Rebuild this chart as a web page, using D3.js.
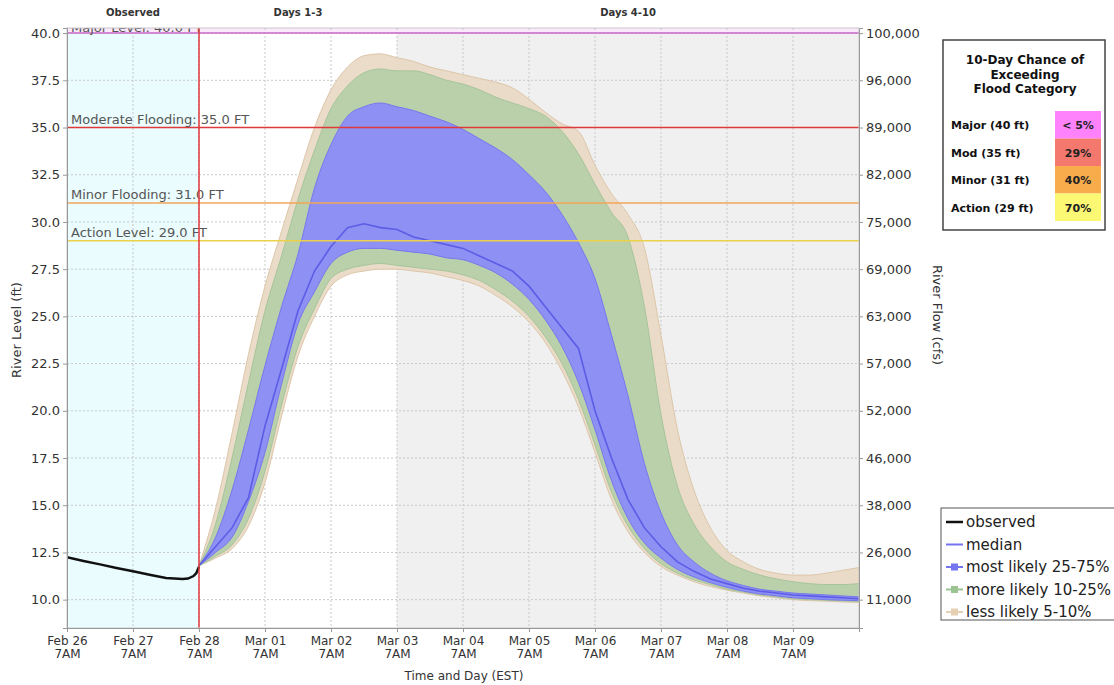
<!DOCTYPE html>
<html>
<head>
<meta charset="utf-8">
<script src="https://cdn.jsdelivr.net/npm/d3@7"></script>
<style>
  body { margin: 0; background: #fff; }
  text { font-family: "DejaVu Sans", sans-serif; }
</style>
</head>
<body>
<div class="container"></div>
<script>
// hours after Feb 26 7AM
let obsHours = [0, 6, 12, 18, 24, 30, 36, 42, 44, 46, 47, 48];
let obsLevel = [12.25, 12.05, 11.87, 11.68, 11.5, 11.32, 11.15, 11.1, 11.12, 11.25, 11.4, 11.75];

// hours after Feb 28 7AM, 6 hour steps
let fcHours = [0, 6, 12, 18, 24, 30, 36, 42, 48, 54, 60, 66, 72, 78, 84, 90, 96, 102, 108, 114, 120,
  126, 132, 138, 144, 150, 156, 162, 168, 174, 180, 186, 192, 198, 204, 210, 216, 222, 228, 234, 240];

let median = [11.8, 12.8, 13.8, 15.4, 19.2, 22.2, 25.3, 27.4, 28.7, 29.7, 29.9, 29.7, 29.6, 29.2, 29.0, 28.8, 28.6, 28.2, 27.8, 27.4, 26.6,
  25.5, 24.4, 23.3, 20.0, 17.5, 15.3, 13.8, 12.8, 12.0, 11.5, 11.1, 10.85, 10.6, 10.45, 10.35, 10.25, 10.2, 10.15, 10.1, 10.05];
let p25 = [11.8, 13.3, 15.8, 19.0, 22.4, 25.5, 28.3, 31.8, 34.1, 35.6, 36.1, 36.3, 36.1, 35.9, 35.6, 35.3, 34.9, 34.4, 33.9, 33.3, 32.5,
  31.6, 30.4, 28.9, 27.0, 24.0, 20.8, 17.2, 14.6, 12.9, 12.0, 11.4, 11.0, 10.75, 10.55, 10.45, 10.35, 10.3, 10.25, 10.2, 10.15];
let p75 = [11.8, 12.5, 13.3, 15.2, 17.8, 21.4, 24.6, 26.3, 27.8, 28.4, 28.6, 28.6, 28.5, 28.4, 28.3, 28.1, 28.0, 27.7, 27.3, 26.7, 25.9,
  24.8, 23.4, 21.5, 19.0, 16.3, 14.3, 13.0, 12.2, 11.6, 11.2, 10.9, 10.65, 10.45, 10.3, 10.2, 10.1, 10.05, 10.0, 9.97, 9.95];
let p10 = [11.8, 14.0, 17.5, 21.5, 25.3, 28.2, 31.2, 33.8, 36.0, 37.2, 37.9, 38.1, 38.0, 38.0, 37.8, 37.5, 37.3, 37.0, 36.6, 36.3, 36.0,
  35.6, 34.8, 33.6, 32.0, 30.5, 29.2, 25.5, 19.8, 16.0, 14.0, 12.8, 12.0, 11.6, 11.3, 11.1, 10.95, 10.85, 10.8, 10.8, 10.85];
let p90 = [11.8, 12.3, 12.9, 14.3, 16.8, 20.3, 23.4, 25.4, 27.0, 27.5, 27.7, 27.8, 27.7, 27.6, 27.5, 27.4, 27.2, 26.9, 26.4, 25.8, 25.0,
  23.9, 22.5, 20.6, 18.2, 15.7, 13.9, 12.7, 11.9, 11.4, 11.05, 10.8, 10.55, 10.4, 10.25, 10.15, 10.05, 10.0, 9.97, 9.93, 9.9];
let p05 = [11.8, 14.8, 18.8, 23.0, 26.6, 29.5, 32.3, 35.0, 37.0, 38.2, 38.8, 38.9, 38.7, 38.5, 38.2, 38.0, 37.8, 37.6, 37.4, 37.1, 36.5,
  35.8, 35.2, 34.8, 33.0, 31.5, 30.4, 28.6, 24.0, 19.0, 15.8, 13.8, 12.6, 12.0, 11.6, 11.4, 11.3, 11.3, 11.4, 11.55, 11.7];
let p95 = [11.8, 12.2, 12.7, 13.9, 16.2, 19.7, 22.9, 25.0, 26.6, 27.2, 27.4, 27.5, 27.5, 27.4, 27.3, 27.1, 26.9, 26.6, 26.1, 25.5, 24.7,
  23.6, 22.1, 20.2, 17.8, 15.3, 13.6, 12.5, 11.75, 11.3, 10.95, 10.7, 10.5, 10.35, 10.2, 10.1, 10.0, 9.95, 9.92, 9.88, 9.85];

let levelTicks = [10, 12.5, 15, 17.5, 20, 22.5, 25, 27.5, 30, 32.5, 35, 37.5, 40];
let flowTicks = ["11,000", "26,000", "38,000", "46,000", "52,000", "57,000", "63,000", "69,000", "75,000", "82,000", "89,000", "96,000", "100,000"];

let floodNames = ["Major Level: 40.0 FT", "Moderate Flooding: 35.0 FT", "Minor Flooding: 31.0 FT", "Action Level: 29.0 FT"];
let floodLevels = [40, 35, 31, 29];
let floodColors = ["#c86ac8", "#e0393b", "#f2a65a", "#ead24a"];

let chanceNames = ["Major (40 ft)", "Mod (35 ft)", "Minor (31 ft)", "Action (29 ft)"];
let chanceValues = ["< 5%", "29%", "40%", "70%"];
let chanceColors = ["#fd82fb", "#f4786e", "#f8ac4c", "#fdf874"];

let legendNames = ["observed", "median", "most likely 25-75%", "more likely 10-25%", "less likely 5-10%"];
let legendColors = ["#111", "#7474f0", "#7474f0", "#9cc492", "#e6d0b4"];

let t0 = new Date(Date.UTC(2023, 1, 26, 7));
let tObsEnd = new Date(Date.UTC(2023, 1, 28, 7));
let tDay3 = new Date(Date.UTC(2023, 2, 3, 7));
let tEnd = new Date(Date.UTC(2023, 2, 10, 7));
let hour = 3600 * 1000;

let svg = d3.select(".container")
  .append("svg")
  .attr("width", 1114)
  .attr("height", 685);

let pLeft = 67, pRight = 859, pTop = 28, pBottom = 628;

let x = d3.scaleUtc().domain([t0, tEnd]).range([pLeft, pRight]);
let y = d3.scaleLinear().domain([8.5, 40.27]).range([pBottom, pTop]);

svg.append("clipPath").attr("id", "plot")
  .append("rect").attr("x", pLeft).attr("y", pTop).attr("width", pRight - pLeft).attr("height", pBottom - pTop);

let plot = svg.append("g").attr("clip-path", "url(#plot)");

// backgrounds
plot.append("rect").attr("x", x(t0)).attr("y", pTop).attr("width", x(tObsEnd) - x(t0)).attr("height", pBottom - pTop).attr("fill", "#eafcfd");
plot.append("rect").attr("x", x(tDay3)).attr("y", pTop).attr("width", x(tEnd) - x(tDay3)).attr("height", pBottom - pTop).attr("fill", "#f0f0f0");
plot.append("rect").attr("x", pLeft).attr("y", pTop).attr("width", pRight - pLeft).attr("height", y(40) - pTop).attr("fill", "#fbe8fb");

// grid
let days = d3.utcDay.range(d3.utcDay.floor(t0), tEnd)
  .map(d => new Date(d.getTime() + 7 * hour))
  .filter(d => d < tEnd);
let grid = plot.append("g");
days.forEach(d => {
  grid.append("line").attr("x1", x(d)).attr("x2", x(d)).attr("y1", pTop).attr("y2", pBottom)
    .attr("stroke", "#c8c8c8").attr("stroke-dasharray", "2,2");
});
levelTicks.forEach(v => {
  grid.append("line").attr("x1", pLeft).attr("x2", pRight).attr("y1", y(v)).attr("y2", y(v))
    .attr("stroke", "#c8c8c8").attr("stroke-dasharray", "2,2");
});

// forecast bands
let fcTime = h => new Date(tObsEnd.getTime() + h * hour);
let band = (lo, hi) => d3.area()
  .x((d, i) => x(fcTime(fcHours[i])))
  .y0((d, i) => y(lo[i]))
  .y1((d, i) => y(hi[i]))
  .curve(d3.curveMonotoneX)(fcHours);

plot.append("path").attr("d", band(p95, p05)).attr("fill", "#e9d8c3").attr("fill-opacity", 0.9)
  .attr("stroke", "#dcc6a8").attr("stroke-width", 1);
plot.append("path").attr("d", band(p90, p10)).attr("fill", "#b2cea6").attr("fill-opacity", 0.85)
  .attr("stroke", "#a6c59a").attr("stroke-width", 1);
plot.append("path").attr("d", band(p75, p25)).attr("fill", "#8a8af8").attr("fill-opacity", 0.92)
  .attr("stroke", "#7777ee").attr("stroke-width", 1);

plot.append("path")
  .attr("d", d3.line()
    .x((d, i) => x(fcTime(fcHours[i])))
    .y((d, i) => y(median[i]))(fcHours))
  .attr("fill", "none").attr("stroke", "#5c5ce6").attr("stroke-width", 1.6);

// flood lines
floodLevels.forEach((v, i) => {
  plot.append("line").attr("x1", pLeft).attr("x2", pRight).attr("y1", y(v)).attr("y2", y(v))
    .attr("stroke", floodColors[i]).attr("stroke-width", 1.5);
  plot.append("text").attr("x", pLeft + 4).attr("y", y(v) - (i == 0 ? 1 : 4))
    .attr("font-size", 13).attr("fill", "#555").text(floodNames[i]);
});

// observed
plot.append("path")
  .attr("d", d3.line()
    .x((d, i) => x(new Date(t0.getTime() + obsHours[i] * hour)))
    .y((d, i) => y(obsLevel[i]))(obsHours))
  .attr("fill", "none").attr("stroke", "#111").attr("stroke-width", 2.5);

// forecast start line
plot.append("line").attr("x1", x(tObsEnd)).attr("x2", x(tObsEnd)).attr("y1", pTop).attr("y2", pBottom)
  .attr("stroke", "#e0393b").attr("stroke-width", 1.5);

// frame
svg.append("rect").attr("x", pLeft).attr("y", pTop).attr("width", pRight - pLeft).attr("height", pBottom - pTop)
  .attr("fill", "none").attr("stroke", "#c8c8c8");

// axes
let fmtDay = d3.utcFormat("%b %d");
let xAxis = svg.append("g").attr("transform", `translate(0,${pBottom})`)
  .call(d3.axisBottom(x).tickValues(days).tickSize(4).tickFormat(""));
xAxis.selectAll(".tick").each(function (d) {
  let t = d3.select(this);
  t.append("text").attr("y", 17).attr("text-anchor", "middle").attr("font-size", 12).attr("fill", "#333").text(fmtDay(d));
  t.append("text").attr("y", 30).attr("text-anchor", "middle").attr("font-size", 12).attr("fill", "#333").text("7AM");
});

let yAxis = svg.append("g").attr("transform", `translate(${pLeft},0)`)
  .call(d3.axisLeft(y).tickValues(levelTicks).tickSize(4).tickFormat(d3.format(".1f")));
yAxis.selectAll("text").attr("font-size", 13).attr("fill", "#333").attr("font-family", "DejaVu Sans");

let yAxis2 = svg.append("g").attr("transform", `translate(${pRight},0)`)
  .call(d3.axisRight(y).tickValues(levelTicks).tickSize(4).tickFormat((d, i) => flowTicks[i]));
yAxis2.selectAll("text").attr("font-size", 13).attr("fill", "#333").attr("font-family", "DejaVu Sans");

[xAxis, yAxis, yAxis2].forEach(a => {
  a.select(".domain").attr("stroke", "#999");
  a.selectAll(".tick line").attr("stroke", "#999");
});

svg.append("text").attr("transform", "translate(21,330) rotate(-90)").attr("text-anchor", "middle")
  .attr("font-size", 13).attr("fill", "#333").text("River Level (ft)");
svg.append("text").attr("transform", "translate(933,315) rotate(90)").attr("text-anchor", "middle")
  .attr("font-size", 13).attr("fill", "#333").text("River Flow (cfs)");
svg.append("text").attr("x", 464).attr("y", 680).attr("text-anchor", "middle")
  .attr("font-size", 12).attr("fill", "#333").text("Time and Day (EST)");

// period headers
let headers = [["Observed", t0, tObsEnd], ["Days 1-3", tObsEnd, tDay3], ["Days 4-10", tDay3, tEnd]];
headers.forEach(h => {
  svg.append("text").attr("x", (x(h[1]) + x(h[2])) / 2).attr("y", 16).attr("text-anchor", "middle")
    .attr("font-size", 10).attr("font-weight", "bold").attr("fill", "#333").text(h[0]);
});

// chance box
let box = svg.append("g").attr("transform", "translate(943,40)");
box.append("rect").attr("width", 162).attr("height", 190).attr("fill", "#fff").attr("stroke", "#444").attr("stroke-width", 1.5);
["10-Day Chance of", "Exceeding", "Flood Category"].forEach((s, i) => {
  box.append("text").attr("x", 82).attr("y", 24 + i * 14.5).attr("text-anchor", "middle")
    .attr("font-size", 12).attr("font-weight", "bold").attr("font-family", "Liberation Sans").attr("fill", "#111").text(s);
});
chanceNames.forEach((s, i) => {
  box.append("rect").attr("x", 112).attr("y", 71 + i * 27.5).attr("width", 46).attr("height", 27.5).attr("fill", chanceColors[i]);
  box.append("text").attr("x", 8).attr("y", 89 + i * 27.5).attr("font-size", 11).attr("font-weight", "bold")
    .attr("font-family", "Liberation Sans").attr("fill", "#111").text(s);
  box.append("text").attr("x", 135).attr("y", 89 + i * 27.5).attr("text-anchor", "middle").attr("font-size", 11)
    .attr("font-weight", "bold").attr("font-family", "Liberation Sans").attr("fill", "#222").text(chanceValues[i]);
});

// series legend
let leg = svg.append("g").attr("transform", "translate(941,508)");
leg.append("rect").attr("width", 190).attr("height", 112).attr("fill", "#fff").attr("stroke", "#555");
legendNames.forEach((s, i) => {
  let ly = 14 + i * 22.5;
  leg.append("line").attr("x1", 5).attr("x2", 22).attr("y1", ly).attr("y2", ly)
    .attr("stroke", legendColors[i]).attr("stroke-width", i == 0 ? 2.5 : 2);
  if (i >= 2) {
    leg.append("rect").attr("x", 10).attr("y", ly - 3.5).attr("width", 7).attr("height", 7).attr("fill", legendColors[i]);
  }
  leg.append("text").attr("x", 25).attr("y", ly + 5).attr("font-size", 15).attr("fill", "#222").text(s);
});
</script>
</body>
</html>
